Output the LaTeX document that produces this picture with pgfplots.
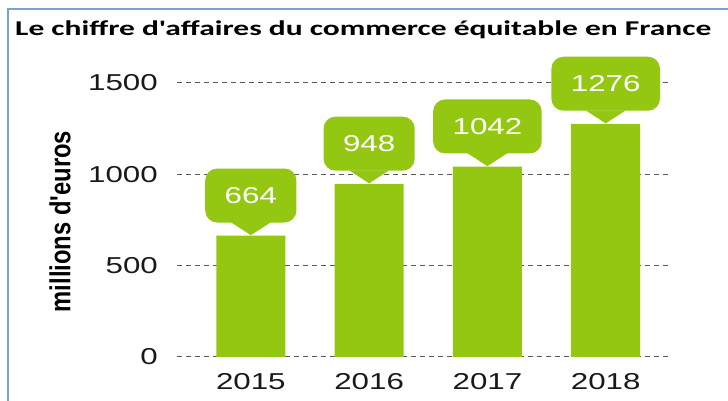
\documentclass[border=0pt]{standalone}
\usepackage{fontspec}
\usepackage{pgfplots}
\pgfplotsset{compat=1.18}
\setmainfont{Liberation Sans}
\newfontfamily\wide[FakeStretch=1.36]{Liberation Sans}
\newfontfamily\narrowb[FakeStretch=0.82]{Liberation Sans Bold}
\newfontfamily\titlef[FakeStretch=1.5]{Carlito}
\definecolor{barg}{RGB}{148,199,18}
\definecolor{bord}{RGB}{122,160,212}
\begin{document}
\begin{tikzpicture}[x=1pt,y=1pt]
\useasboundingbox (0,0) rectangle (728,401);
\draw[bord, line width=2pt] (8,-5) -- (8,392) -- (735,392);
\node[anchor=base west, inner sep=0pt, font=\titlef\bfseries\fontsize{21}{24}\selectfont] at (15,365.7) {Le chiffre d'affaires du commerce équitable en France};
\node[rotate=90, inner sep=0pt, font=\narrowb\fontsize{29}{32}\selectfont] at (60,179.5) {millions d'euros};
\begin{axis}[
  at={(177pt,44pt)}, anchor=south west, scale only axis,
  width=492pt, height=274pt,
  xmin=-0.624, xmax=3.535, ymin=0, ymax=1500,
  clip=false,
  axis line style={draw=none},
  major tick length=0pt,
  ytick={0,500,1000,1500},
  xtick={0,1,2,3},
  xticklabels={2015,2016,2017,2018},
  ymajorgrids,
  major grid style={dash pattern=on 5pt off 4pt, black!65, line width=1pt},
  extra y ticks={0},
  extra y tick labels={},
  extra y tick style={grid style={dash pattern=on 7pt off 4pt, black!60, line width=1.6pt}},
  /pgf/number format/assume math mode=true,
  /pgf/number format/1000 sep={},
  ticklabel style={font=\wide\fontsize{23}{26}\selectfont, text=black!90},
  yticklabel style={anchor=east, inner sep=0pt, xshift=-19pt},
  xticklabel style={anchor=north, inner sep=0pt, yshift=-16pt},
]
\addplot[ybar, bar width=69pt, fill=barg, draw=none,
  nodes near coords,
  every node near coord/.style={
    anchor=south, yshift=13pt, fill=barg, rounded corners=12pt,
    text=white, font=\wide\fontsize{23}{26}\selectfont,
    minimum height=54pt, inner xsep=19.5pt, inner ysep=0pt,
    append after command={\pgfextra{\fill[barg, sharp corners] ([xshift=-20pt,yshift=0.5pt]\tikzlastnode.south) -- ([yshift=-12.5pt]\tikzlastnode.south) -- ([xshift=20pt,yshift=0.5pt]\tikzlastnode.south) -- cycle;}}
  }
] coordinates {(0,664) (1,948) (2,1042) (3,1276)};
\end{axis}
\end{tikzpicture}
\end{document}
